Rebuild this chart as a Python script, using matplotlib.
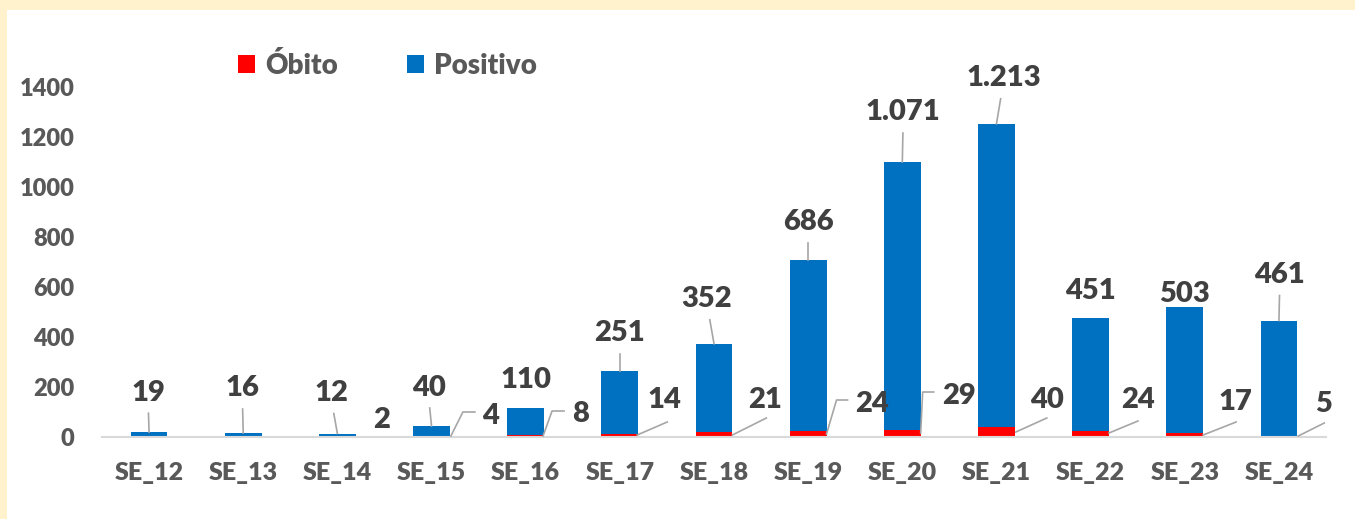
import numpy as np
import matplotlib.pyplot as plt
from matplotlib.patches import Patch, Rectangle

plt.rcParams['font.family'] = ['Lato', 'DejaVu Sans']
plt.rcParams['font.weight'] = 'heavy'

semanas = ["SE_12", "SE_13", "SE_14", "SE_15", "SE_16", "SE_17", "SE_18",
           "SE_19", "SE_20", "SE_21", "SE_22", "SE_23", "SE_24"]
obito = [0, 0, 2, 4, 8, 14, 21, 24, 29, 40, 24, 17, 5]
positivo = [19, 16, 12, 40, 110, 251, 352, 686, 1071, 1213, 451, 503, 461]

# label offsets in pixels (x right, y up)
pos_off = [(-1, 42), (-1, 47), (-6, 43), (-3, 41), (0, 30), (0, 40), (-7, 47),
           (0, 40), (1, 52), (7, 48), (0, 30), (0, 15), (1, 48)]
obi_off = [None, None, (26, 19), (41, 24), (37, 25), (26, 39), (33, 40),
           (45, 35), (38, 44), (32, 40), (29, 39), (32, 37), (26, 35)]
obi_lines = [None, None, None,
             [(1, 1), (13, 25), (25, 25)],
             [(-1, 1), (8, 26), (20, 26)],
             [(-1, 2), (29, 15)],
             [(0, 2), (34, 19)],
             [(0, 3), (10, 37), (21, 37)],
             [(0, 4), (2, 45), (13, 45)],
             [(1, 5), (32, 19)],
             [(0, 4), (29, 16)],
             [(0, 2), (33, 15)],
             [(1, 1), (27, 14)]]

RED = "#FF0000"
BLUE = "#0070C0"
LBL = "#404040"
TICK = "#595959"
LINE = "#A6A6A6"

W, H = 1355, 519
fig = plt.figure(figsize=(W / 100, H / 100), dpi=100, facecolor="#FFF2CC")
fig.patches.append(Rectangle((7 / W, 0), 1, (H - 10) / H, transform=fig.transFigure,
                             facecolor="white", edgecolor="none", zorder=-1))
ax = fig.add_axes([102 / W, (H - 437) / H, 1224 / W, 350 / H])
ax.patch.set_visible(False)

x = np.arange(len(semanas))
bw = 0.39
ax.bar(x, obito, bw, color=RED, zorder=2)
ax.bar(x, positivo, bw, bottom=obito, color=BLUE, zorder=2)

ax.set_xlim(-0.5, 12.5)
ax.set_ylim(0, 1400)
ax.set_yticks(range(0, 1401, 200))
ax.set_xticks(x)
ax.set_xticklabels(semanas)
for s in ["top", "right", "left"]:
    ax.spines[s].set_visible(False)
ax.spines["bottom"].set_color("#D9D9D9")
ax.spines["bottom"].set_linewidth(1.5)
ax.tick_params(axis="both", length=0, labelcolor=TICK)
ax.tick_params(axis="y", pad=20, labelsize=17)
ax.tick_params(axis="x", pad=18, labelsize=18)


def shift(px, py, dx, dy):
    X, Y = ax.transData.transform((px, py))
    return ax.transData.inverted().transform((X + dx, Y + dy))


def fmt(v):
    return f"{v:,}".replace(",", ".")


for i in range(len(semanas)):
    top = obito[i] + positivo[i]
    dx, dy = pos_off[i]
    tx, ty = shift(i, top, dx, dy)
    ax.text(tx, ty, fmt(positivo[i]), ha="center", va="center_baseline",
            fontsize=21, color=LBL, zorder=4)
    if dy >= 38:
        lx, ly = shift(i, top, dx * 0.6, dy - 23)
        ax.plot([lx, i], [ly, top], color=LINE, lw=1.2, zorder=3, clip_on=False)

    if obi_off[i] is not None:
        ex = i + bw / 2
        dx, dy = obi_off[i]
        tx, ty = shift(ex, 0, dx, dy)
        ax.text(tx, ty, fmt(obito[i]), ha="center", va="center_baseline",
                fontsize=21, color=LBL, zorder=4)
        if obi_lines[i] is not None:
            pts = np.array([shift(ex, 0, a, b) for a, b in obi_lines[i]])
            ax.plot(pts[:, 0], pts[:, 1], color=LINE, lw=1.2, zorder=3, clip_on=False)

handles = [Patch(facecolor=RED, label="Óbito"), Patch(facecolor=BLUE, label="Positivo")]
fig.legend(handles=handles, loc="center left", bbox_to_anchor=(238 / W, 1 - 65 / H),
           ncol=2, frameon=False, fontsize=20, labelcolor=TICK,
           handlelength=0.62, handleheight=0.62, handletextpad=0.35,
           columnspacing=2.5, borderpad=0, borderaxespad=0)

fig.savefig("out.png", dpi=100, facecolor=fig.get_facecolor())
